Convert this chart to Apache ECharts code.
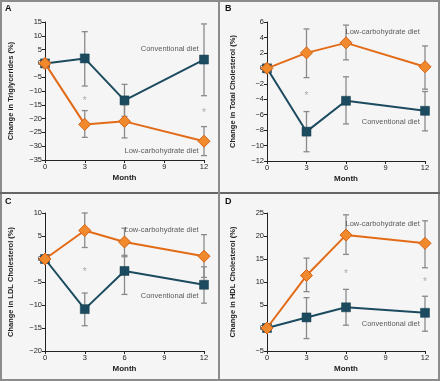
<!DOCTYPE html>
<html><head><meta charset="utf-8">
<script src="https://cdn.jsdelivr.net/npm/echarts@6/dist/echarts.min.js"></script>
<style>html,body{margin:0;padding:0;background:#f5f5f5}#c{width:440px;height:381px}</style>
</head><body><div id="c"></div>
<script>
const months = [0, 3, 6, 12];
const xTicks = [0, 3, 6, 9, 12];

// Panel A: triglycerides
const aConv = [0, 1.8, -13.4, 1.4];
const aConvHi = [null, 11.5, -7.6, 14.3];
const aConvLo = [null, -8.2, -19.2, -11.7];
const aLow = [0, -22.1, -21.0, -28.2];
const aLowHi = [null, -17.1, -15.0, -22.9];
const aLowLo = [null, -26.8, -27.0, -33.4];
const aStars = [[3, -12.9], [12, -17.5]];

// Panel B: total cholesterol
const bConv = [0, -8.2, -4.2, -5.5];
const bConvHi = [null, -5.6, -1.1, -3.0];
const bConvLo = [null, -10.8, -7.2, -8.1];
const bLow = [0, 2.0, 3.3, 0.2];
const bLowHi = [null, 5.1, 5.6, 2.9];
const bLowLo = [null, -1.2, 1.1, -2.7];
const bStars = [[3, -3.4]];

// Panel C: LDL cholesterol
const cConv = [0, -10.9, -2.6, -5.6];
const cConvHi = [null, -7.4, 0.5, -1.7];
const cConvLo = [null, -14.5, -7.7, -9.6];
const cLow = [0, 6.2, 3.7, 0.6];
const cLowHi = [null, 10.0, 6.7, 5.3];
const cLowLo = [null, 2.5, 0.8, -4.0];
const cStars = [[3, -2.4]];

// Panel D: HDL cholesterol
const dConv = [0, 2.3, 4.5, 3.3];
const dConvHi = [null, 6.6, 8.4, 6.9];
const dConvLo = [null, -2.3, 0.6, -0.7];
const dLow = [0, 11.4, 20.2, 18.4];
const dLowHi = [null, 15.2, 24.6, 23.3];
const dLowLo = [null, 7.9, 16.0, 13.1];
const dStars = [[6, 12.2], [12, 10.4]];

const panelLetters = ['A', 'B', 'C', 'D'];
const yTitles = ['Change in Triglycerides (%)', 'Change in Total Cholesterol (%)', 'Change in LDL Cholesterol (%)', 'Change in HDL Cholesterol (%)'];
const yMin = [-35, -12, -20, -5];
const yMax = [15, 6, 10, 25];
const yStep = [5, 2, 5, 5];
const convLabelPos = [[11.6, 5.2], [11.6, -7.0], [11.6, -8.0], [11.6, 0.9]];
const lowLabelPos = [[11.6, -31.7], [11.6, 4.7], [11.6, 6.3], [11.6, 22.7]];
const convName = 'Conventional diet';
const lowName = 'Low-carbohydrate diet';

const panels = [
  {conv: aConv, convHi: aConvHi, convLo: aConvLo, low: aLow, lowHi: aLowHi, lowLo: aLowLo, stars: aStars},
  {conv: bConv, convHi: bConvHi, convLo: bConvLo, low: bLow, lowHi: bLowHi, lowLo: bLowLo, stars: bStars},
  {conv: cConv, convHi: cConvHi, convLo: cConvLo, low: cLow, lowHi: cLowHi, lowLo: cLowLo, stars: cStars},
  {conv: dConv, convHi: dConvHi, convLo: dConvLo, low: dLow, lowHi: dLowHi, lowLo: dLowLo, stars: dStars}
];

const TEAL = '#1c4b5f';
const ORANGE = '#e26b17';
const ERR = '#8a8a8a';
const FONT = 'Liberation Sans';

const grids = [
  {left: 45, top: 22, width: 159, height: 138},
  {left: 267, top: 22, width: 158, height: 139},
  {left: 45, top: 213, width: 159, height: 138},
  {left: 267, top: 213, width: 158, height: 138}
];

const fmt = v => v < 0 ? '\u2212' + Math.abs(v) : String(v);

const xAxes = [], yAxes = [], series = [];
panels.forEach((p, i) => {
  xAxes.push({
    gridIndex: i, type: 'value', min: 0, max: 12, interval: 3,
    name: 'Month', nameLocation: 'middle', nameGap: 14,
    nameTextStyle: {fontFamily: FONT, fontWeight: 'bold', fontSize: 8, color: '#222'},
    axisLine: {show: true, onZero: false, lineStyle: {color: '#222', width: 1}},
    axisTick: {show: true, length: 3, lineStyle: {color: '#222'}},
    axisLabel: {fontFamily: FONT, fontSize: 7.5, color: '#222', margin: 3},
    splitLine: {show: false}
  });
  yAxes.push({
    gridIndex: i, type: 'value', min: yMin[i], max: yMax[i], interval: yStep[i],
    name: yTitles[i], nameLocation: 'middle', nameGap: 30,
    nameTextStyle: {fontFamily: FONT, fontWeight: 'bold', fontSize: 7.5, color: '#222'},
    axisLine: {show: true, onZero: false, lineStyle: {color: '#222', width: 1}},
    axisTick: {show: true, length: 3, lineStyle: {color: '#222'}},
    axisLabel: {fontFamily: FONT, fontSize: 7.5, color: '#222', margin: 3, formatter: fmt},
    splitLine: {show: false}
  });
  const errData = [];
  months.forEach((m, k) => {
    if (p.convHi[k] != null) errData.push([m, p.convLo[k], p.convHi[k]]);
    if (p.lowHi[k] != null) errData.push([m, p.lowLo[k], p.lowHi[k]]);
  });
  series.push({
    type: 'custom', xAxisIndex: i, yAxisIndex: i, z: 1, silent: true,
    data: errData,
    renderItem: (params, api) => {
      const x = api.value(0);
      const lo = api.coord([x, api.value(1)]);
      const hi = api.coord([x, api.value(2)]);
      const w = 3;
      const st = {stroke: ERR, lineWidth: 1.3};
      return {type: 'group', children: [
        {type: 'line', shape: {x1: lo[0], y1: lo[1], x2: hi[0], y2: hi[1]}, style: st},
        {type: 'line', shape: {x1: lo[0] - w, y1: lo[1], x2: lo[0] + w, y2: lo[1]}, style: st},
        {type: 'line', shape: {x1: hi[0] - w, y1: hi[1], x2: hi[0] + w, y2: hi[1]}, style: st}
      ]};
    }
  });
  series.push({
    type: 'line', xAxisIndex: i, yAxisIndex: i, z: 3,
    data: months.map((m, k) => [m, p.conv[k]]),
    lineStyle: {color: TEAL, width: 2}, symbol: 'rect', symbolSize: 9,
    itemStyle: {color: TEAL, borderColor: '#163f50', borderWidth: 0.5}, showSymbol: true, animation: false
  });
  series.push({
    type: 'line', xAxisIndex: i, yAxisIndex: i, z: 4,
    data: months.map((m, k) => [m, p.low[k]]),
    lineStyle: {color: ORANGE, width: 2}, symbol: 'diamond', symbolSize: [12, 12],
    itemStyle: {color: '#f08a2c', borderColor: '#d65f12', borderWidth: 1}, showSymbol: true, animation: false
  });
  series.push({
    type: 'scatter', xAxisIndex: i, yAxisIndex: i, z: 2, silent: true,
    data: p.stars, symbolSize: 0,
    label: {show: true, position: 'inside', offset: [0, 2], formatter: '*', fontFamily: FONT, fontSize: 10, color: '#999'}
  });
  series.push({
    type: 'scatter', xAxisIndex: i, yAxisIndex: i, z: 5, silent: true, symbolSize: 0,
    data: [
      {value: convLabelPos[i], label: {formatter: convName}},
      {value: lowLabelPos[i], label: {formatter: lowName}}
    ],
    label: {show: true, position: 'left', distance: 0, fontFamily: FONT, fontSize: 7.5, color: '#333'}
  });
});

const letterPos = [[5, 4], [225, 4], [5, 197], [225, 197]];
const graphic = [
  {type: 'rect', shape: {x: 1, y: 1, width: 438, height: 379}, style: {fill: 'none', stroke: '#8c8c8c', lineWidth: 2}, z: 100},
  {type: 'line', shape: {x1: 0, y1: 193, x2: 440, y2: 193}, style: {stroke: '#666', lineWidth: 2}, z: 100},
  {type: 'line', shape: {x1: 219, y1: 0, x2: 219, y2: 381}, style: {stroke: '#8c8c8c', lineWidth: 2}, z: 100}
];
panelLetters.forEach((t, i) => graphic.push({
  type: 'text', left: letterPos[i][0], top: letterPos[i][1], z: 100,
  style: {text: t, fontFamily: FONT, fontWeight: 'bold', fontSize: 9, fill: '#111'}
}));

const chart = echarts.init(document.getElementById('c'), null, {renderer: 'canvas'});
chart.setOption({
  backgroundColor: '#f5f5f5',
  animation: false,
  grid: grids,
  xAxis: xAxes,
  yAxis: yAxes,
  series: series,
  graphic: graphic
});
</script>
</body></html>
